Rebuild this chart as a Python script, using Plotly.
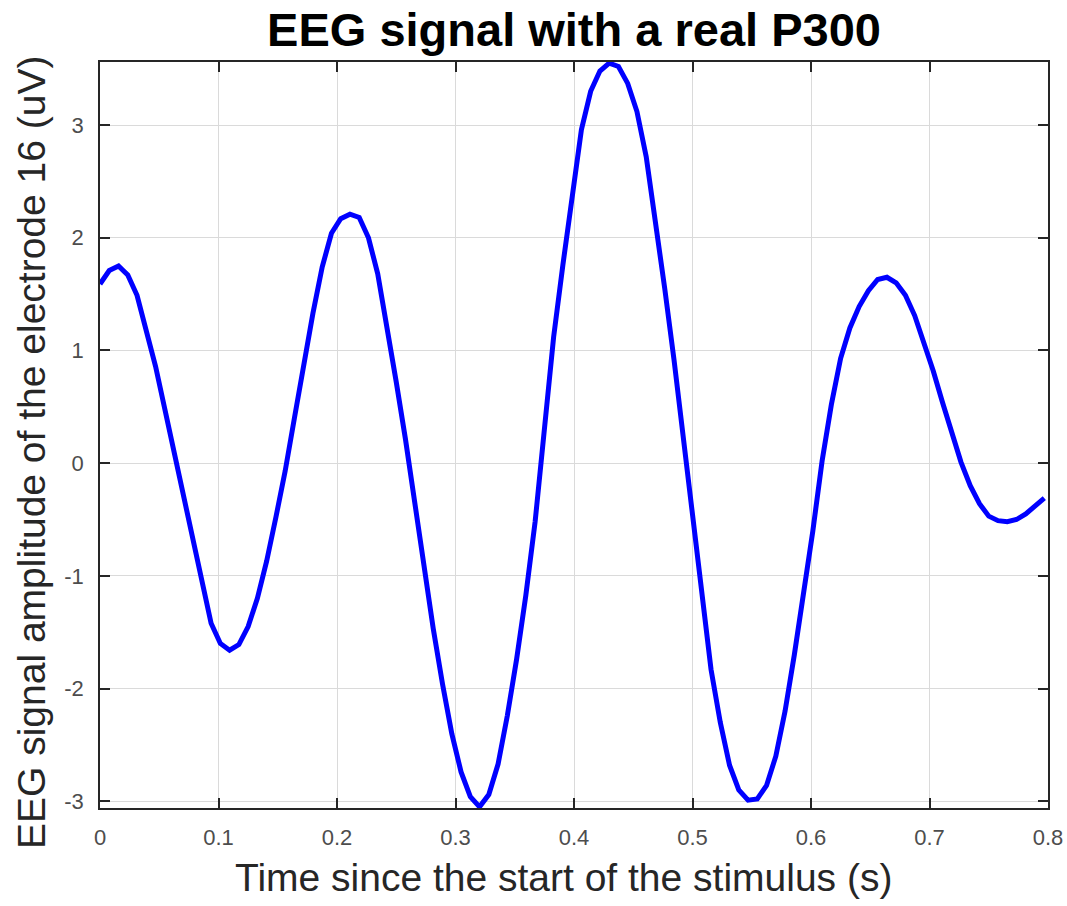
import plotly.graph_objects as go

# Sampling rate of the EEG recording (Hz)
fs = 128

# Amplitude (uV) of electrode 16, one value per sample
amplitude = [
    1.59, 1.71, 1.75, 1.67, 1.49, 1.19, 0.86, 0.48, 0.10, -0.30,
    -0.71, -1.09, -1.42, -1.60, -1.66, -1.61, -1.45, -1.20, -0.87, -0.48,
    -0.07, 0.40, 0.87, 1.33, 1.74, 2.04, 2.17, 2.21, 2.18, 2.00,
    1.68, 1.22, 0.72, 0.21, -0.35, -0.93, -1.47, -1.96, -2.40, -2.74,
    -2.96, -3.05, -2.94, -2.67, -2.24, -1.74, -1.17, -0.52, 0.30, 1.12,
    1.76, 2.36, 2.96, 3.30, 3.48, 3.55, 3.52, 3.37, 3.12, 2.72,
    2.17, 1.55, 0.92, 0.22, -0.45, -1.18, -1.83, -2.30, -2.68, -2.90,
    -2.99, -2.98, -2.86, -2.60, -2.20, -1.70, -1.17, -0.60, 0.02, 0.52,
    0.93, 1.20, 1.39, 1.53, 1.63, 1.65, 1.60, 1.49, 1.31, 1.07,
    0.82, 0.54, 0.27, 0.01, -0.20, -0.36, -0.47, -0.51, -0.52, -0.50,
    -0.45, -0.38, -0.31,
]
time_s = [i / fs for i in range(len(amplitude))]

x_ticks = [0, 0.1, 0.2, 0.3, 0.4, 0.5, 0.6, 0.7, 0.8]
x_tick_labels = ["0", "0.1", "0.2", "0.3", "0.4", "0.5", "0.6", "0.7", "0.8"]
y_ticks = [-3, -2, -1, 0, 1, 2, 3]
y_tick_labels = ["-3", "-2", "-1", "0", "1", "2", "3"]

title_text = "EEG signal with a real P300"
x_title = "Time since the start of the stimulus (s)"
y_title = "EEG signal amplitude of the electrode 16 (uV)"

FONT = "Liberation Sans, Arial, sans-serif"
AXIS_COLOR = "#262626"
GRID_COLOR = "#dadada"

W, H = 1067, 906
ML, MR, MT, MB = 100, 19, 62, 98
plot_h = H - MT - MB
plot_w = W - ML - MR

fig = go.Figure()
fig.add_trace(go.Scatter(
    x=time_s, y=amplitude, mode="lines",
    line=dict(color="#0000ff", width=5),
    showlegend=False, hoverinfo="skip",
))

axis_common = dict(
    showline=True, linecolor=AXIS_COLOR, linewidth=1.5,
    mirror="ticks", ticks="inside", ticklen=10, tickwidth=1.5,
    tickcolor=AXIS_COLOR, showgrid=True, gridcolor=GRID_COLOR, gridwidth=1,
    zeroline=False, automargin=False,
    tickfont=dict(family=FONT, size=22, color="#4d4d4d"),
)

fig.update_xaxes(
    range=[0, 0.8], tickvals=x_ticks, ticktext=x_tick_labels,
    ticklabelstandoff=9, **axis_common,
)
fig.update_yaxes(
    range=[-3.06, 3.56], tickvals=y_ticks, ticktext=y_tick_labels,
    ticklabelstandoff=10, **axis_common,
)

# axis titles as annotations for exact placement (positions in px)
xt_center_x = 563
xt_center_y = 877
yt_center_x = 31
yt_center_y = 453
fig.add_annotation(
    text=x_title, xref="paper", yref="paper",
    x=(xt_center_x - ML) / plot_w, y=(H - MB - xt_center_y) / plot_h,
    xanchor="center", yanchor="middle", showarrow=False,
    font=dict(family=FONT, size=39, color="#262626"),
)
fig.add_annotation(
    text=y_title, xref="paper", yref="paper", textangle=-90,
    x=(yt_center_x - ML) / plot_w, y=(H - MB - yt_center_y) / plot_h,
    xanchor="center", yanchor="middle", showarrow=False,
    font=dict(family=FONT, size=39, color="#262626"),
)

fig.update_layout(
    width=W, height=H,
    margin=dict(l=ML, r=MR, t=MT, b=MB),
    paper_bgcolor="white", plot_bgcolor="white",
    title=dict(
        text="<b>" + title_text + "</b>",
        font=dict(family=FONT, size=47, color="black"),
        x=(ML + plot_w / 2) / W, xanchor="center",
        y=1 - 30 / H, yanchor="middle",
    ),
)

fig.write_html(
    "out.html",
    config={"displayModeBar": False},
    post_script="document.body.style.margin='0';document.body.style.overflow='hidden';",
)
